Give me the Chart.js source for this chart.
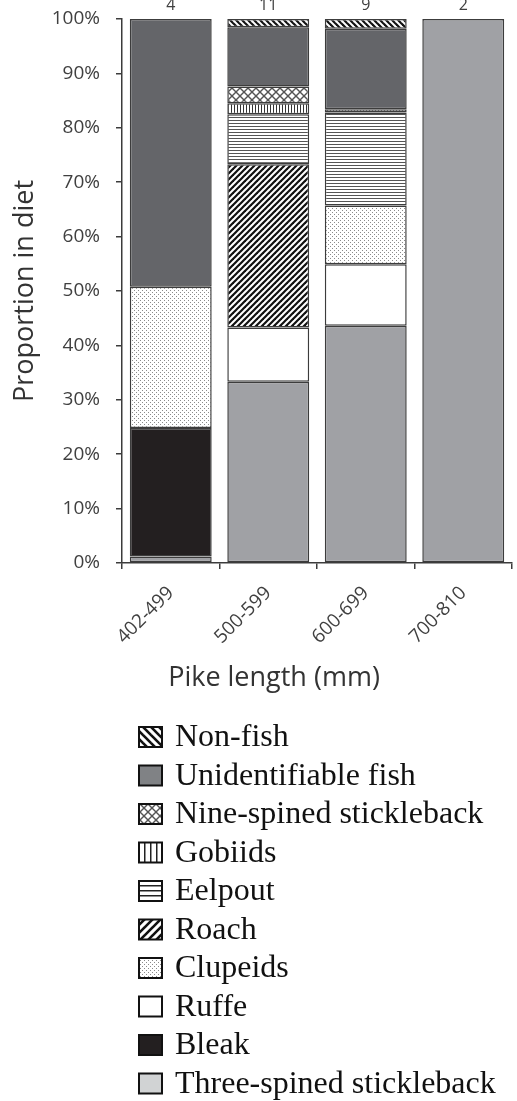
<!DOCTYPE html>
<html><head><meta charset="utf-8">
<script src="https://cdn.jsdelivr.net/npm/chart.js@4/dist/chart.umd.min.js"></script>
<style>html,body{margin:0;padding:0;background:#fff;} #wrap{width:517px;height:1101px;position:relative}</style>
</head><body><div id="wrap"><canvas id="c" width="517" height="1101"></canvas></div>
<script>
// ---- data ----
const categories = ['402-499', '500-599', '600-699', '700-810'];
const sampleSizes = [4, 11, 9, 2];
const threeSpined = [1.2, 33.3, 43.6, 100];
const bleak = [23.6, 0, 0, 0];
const ruffe = [0, 10.0, 11.3, 0];
const clupeids = [26.0, 0, 10.8, 0];
const roach = [0, 30.0, 0, 0];
const eelpout = [0, 9.2, 17.1, 0];
const gobiids = [0, 2.0, 0.6, 0];
const nineSpined = [0, 3.1, 0, 0];
const unidentifiable = [49.2, 10.9, 14.8, 0];
const nonFish = [0, 1.5, 1.8, 0];
const yTickValues = [0, 10, 20, 30, 40, 50, 60, 70, 80, 90, 100];
const xTitle = 'Pike length (mm)';
const yTitle = 'Proportion in diet';

// ---- patterns ----
function pat(w, h, draw) {
  const c = document.createElement('canvas'); c.width = w; c.height = h;
  const g = c.getContext('2d'); g.fillStyle = '#fff'; g.fillRect(0, 0, w, h);
  draw(g, w, h);
  return document.getElementById('c').getContext('2d').createPattern(c, 'repeat');
}
function backStripes(s, lw) { return pat(s, s, (g, w, h) => { g.strokeStyle = '#111'; g.lineWidth = lw; g.lineCap='square';
  for (let k = -1; k <= 1; k++) { g.beginPath(); g.moveTo(k * w, 0); g.lineTo(k * w + w, h); g.stroke(); } }); }
function fwdStripes(s, lw) { return pat(s, s, (g, w, h) => { g.strokeStyle = '#111'; g.lineWidth = lw; g.lineCap='square';
  for (let k = -1; k <= 1; k++) { g.beginPath(); g.moveTo(k * w, h); g.lineTo(k * w + w, 0); g.stroke(); } }); }
const pBack = backStripes(6, 2.2);
const pFwd = fwdStripes(6, 2.2);
const pVert = pat(3, 3, (g) => { g.fillStyle = '#333'; g.fillRect(0, 0, 1, 3); });
const pHoriz = pat(3, 3, (g) => { g.fillStyle = '#555'; g.fillRect(0, 0, 3, 1); });
const pDots = pat(4, 4, (g) => { g.fillStyle = '#8a8a8a'; g.fillRect(0, 0, 1, 1); g.fillRect(2, 2, 1, 1); });
const pCross = pat(8, 8, (g, w, h) => { g.strokeStyle = '#555'; g.lineWidth = 1.4;
  for (let k = -1; k <= 1; k++) { g.beginPath(); g.moveTo(k*w, 0); g.lineTo(k*w + w, h); g.stroke();
    g.beginPath(); g.moveTo(k*w, h); g.lineTo(k*w + w, 0); g.stroke(); } });

const edge = '#3c3c3c';
function ds(label, data, bg, legendFill) {
  return { label, data, backgroundColor: bg, legendFill: legendFill || bg, borderColor: edge, borderWidth: 1.5,
           borderSkipped: false, barPercentage: 0.84, categoryPercentage: 1.0 };
}
const datasets = [
  ds('Three-spined stickleback', threeSpined, '#a0a1a5', '#d1d3d4'),
  ds('Bleak', bleak, '#231f20'),
  ds('Ruffe', ruffe, '#ffffff'),
  ds('Clupeids', clupeids, pDots),
  ds('Roach', roach, pFwd, fwdStripes(8, 2.6)),
  ds('Eelpout', eelpout, pHoriz, pat(5, 5, (g) => { g.fillStyle = '#222'; g.fillRect(0, 0, 5, 1.5); })),
  ds('Gobiids', gobiids, pVert, pat(6, 6, (g) => { g.fillStyle = '#222'; g.fillRect(0, 0, 1.5, 6); })),
  ds('Nine-spined stickleback', nineSpined, pCross),
  ds('Unidentifiable fish', unidentifiable, '#646569', '#808285'),
  ds('Non-fish', nonFish, pBack, backStripes(8, 2.6)),
];

const tickFont = { family: '"Open Sans", sans-serif', size: 19 };
const tickColor = '#404040';

const extras = {
  id: 'extras',
  afterDraw(chart) {
    const ctx = chart.ctx, xs = chart.scales.x, ca = chart.chartArea;
    ctx.save();
    // sample sizes
    ctx.fillStyle = tickColor; ctx.font = '16px "Open Sans", sans-serif';
    ctx.textAlign = 'center'; ctx.textBaseline = 'alphabetic';
    sampleSizes.forEach((n, i) => ctx.fillText(String(n), xs.getPixelForValue(i), ca.top - 9));
    // x title
    ctx.font = '27px "Open Sans", sans-serif';
    ctx.fillStyle = '#333';
    ctx.textBaseline = 'middle';
    ctx.fillText(xTitle, 274, 678);
    // legend
    const items = chart.data.datasets.slice().reverse();
    ctx.font = '32px "Liberation Serif", "Times New Roman", serif';
    ctx.textAlign = 'left';
    items.forEach((d, k) => {
      const cy = 737 + k * 38.5;
      ctx.fillStyle = d.legendFill;
      ctx.fillRect(139, cy - 10, 23, 20);
      ctx.strokeStyle = '#111'; ctx.lineWidth = 2;
      ctx.strokeRect(139, cy - 10, 23, 20);
      ctx.fillStyle = '#111';
      ctx.fillText(d.label, 175, cy + 1);
    });
    ctx.restore();
  }
};

new Chart(document.getElementById('c'), {
  type: 'bar',
  data: { labels: categories, datasets },
  options: {
    responsive: false, animation: false,
    layout: { padding: { top: 19, right: 5, left: 0, bottom: 0 } },
    plugins: { legend: { display: false }, tooltip: { enabled: false } },
    scales: {
      x: {
        stacked: true,
        afterFit(s) { s.height = 538; s.paddingLeft = 0; s.paddingRight = 0; },
        grid: { offset: true, drawOnChartArea: false, drawTicks: true, tickLength: 6, color: edge, lineWidth: 1.5 },
        border: { color: edge, width: 1.5 },
        ticks: { color: tickColor, font: tickFont, minRotation: 45, maxRotation: 45, padding: 13 }
      },
      y: {
        stacked: true, min: 0, max: 100,
        afterFit(s) { s.width = 122; s.paddingTop = 0; s.paddingBottom = 0; },
        afterBuildTicks(s) { s.ticks = yTickValues.map(v => ({ value: v })); },
        grid: { drawOnChartArea: false, drawTicks: true, tickLength: 6, color: edge, lineWidth: 1.5 },
        border: { color: edge, width: 1.5 },
        ticks: { color: tickColor, font: tickFont, padding: 16, callback: v => v + '%' },
        title: { display: true, text: yTitle, color: '#333', font: { family: '"Open Sans", sans-serif', size: 27 }, padding: { top: 9, bottom: 0 } }
      }
    }
  },
  plugins: [extras]
});
</script></body></html>
